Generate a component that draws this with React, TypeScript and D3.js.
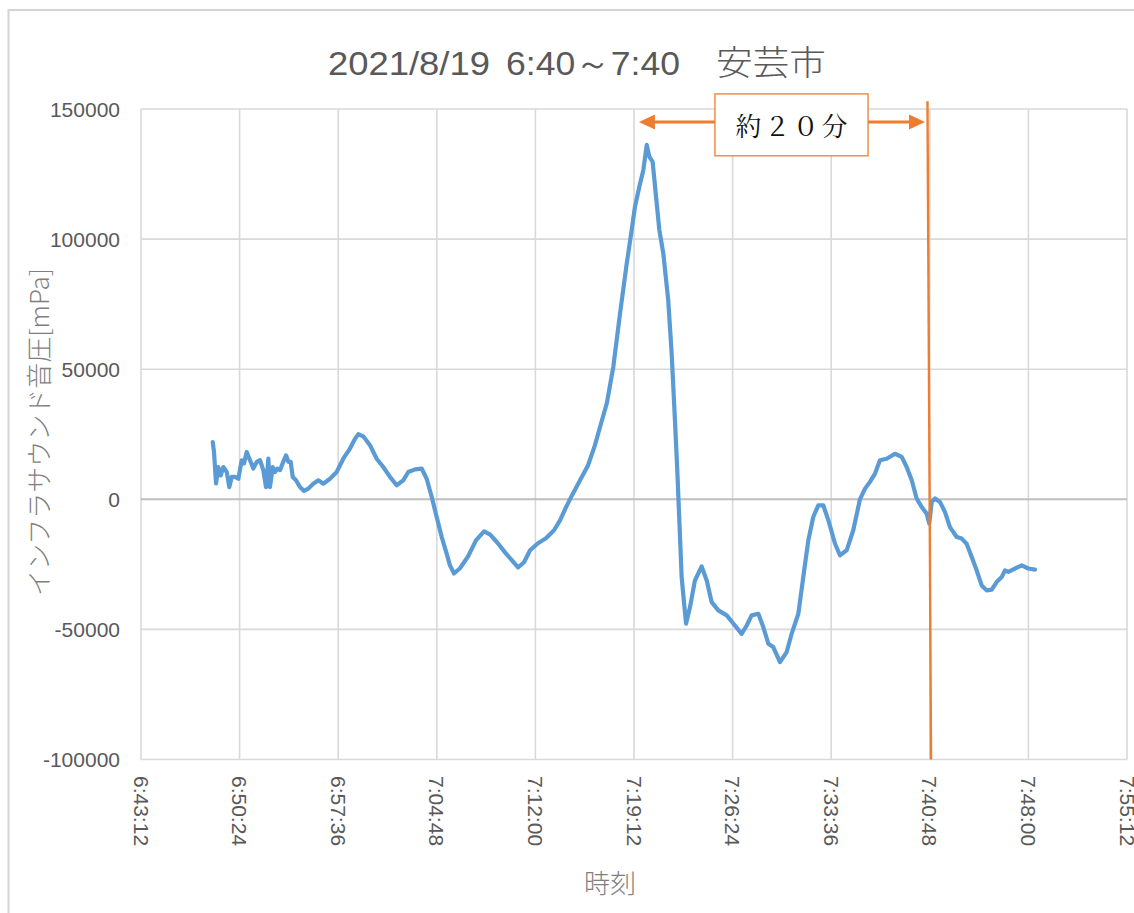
import React from 'react';
import * as d3 from 'd3';

// Chart texts
const titleDate = '2021/8/19';
const titleSpan = '6:40～7:40';
const titlePlace = '安芸市';
const yAxisTitle = 'インフラサウンド音圧[mPa]';
const xAxisTitle = '時刻';
const spanLabel = '約２０分';

// Elapsed minutes after 6:40:00 for each sample
const minutes = [
  8.44, 8.53, 8.68, 8.84, 9.02, 9.21, 9.46, 9.65, 9.82, 10.06, 10.31, 10.55, 10.72, 10.92,
  11.16, 11.4, 11.65, 11.89, 12.13, 12.33, 12.5, 12.62, 12.82, 12.98, 13.15, 13.35, 13.59,
  13.79, 13.96, 14.13, 14.28, 14.52, 14.81, 15.1, 15.42, 15.78, 16.15, 16.51, 17.0, 17.49,
  17.97, 18.46, 18.83, 19.07, 19.43, 19.92, 20.41, 20.89, 21.38, 21.87, 22.35, 22.72, 23.21,
  23.7, 24.06, 24.43, 24.79, 25.16, 25.52, 25.76, 26.06, 26.49, 27.08, 27.66, 28.25, 28.68,
  29.2, 29.78, 30.29, 30.73, 31.17, 31.61, 32.19, 32.77, 33.36, 33.8, 34.23, 34.67, 35.26,
  35.84, 36.35, 36.72, 37.21, 37.69, 38.18, 38.67, 39.03, 39.27, 39.59, 39.88, 40.13, 40.32,
  40.56, 40.81, 41.05, 41.34, 41.7, 41.95, 42.19, 42.36, 42.51, 42.68, 43.0, 43.29, 43.65,
  44.14, 44.51, 44.87, 45.36, 45.97, 46.57, 47.06, 47.43, 47.79, 48.28, 48.64, 49.01, 49.37,
  49.86, 50.35, 50.71, 51.2, 51.56, 51.93, 52.29, 52.66, 53.02, 53.39, 53.88, 54.24, 54.73,
  55.21, 55.7, 56.07, 56.43, 56.8, 57.16, 57.65, 58.26, 58.75, 59.11, 59.48, 59.84, 60.21,
  60.57, 60.76, 60.94, 61.18, 61.54, 61.91, 62.27, 62.76, 63.13, 63.49, 63.86, 64.22, 64.59,
  64.95, 65.32, 65.68, 66.05, 66.29, 66.53, 67.02, 67.51, 67.99, 68.48,
];

// Infrasound pressure [mPa] for each sample
const pressure = [
  22000, 18200, 6100, 12400, 9200, 12400, 10500, 4700, 8600, 8600, 7900, 15000, 13800, 18200,
  15000, 11800, 14400, 15000, 11200, 4700, 15600, 4700, 12400, 10500, 11800, 11200, 14400,
  16900, 14400, 14400, 8600, 7300, 4700, 3200, 4100, 6000, 7300, 6000, 7900, 10500,
  15600, 19500, 23300, 25000, 24200, 20800, 15600, 12400, 8600, 5400, 7300, 10500, 11500,
  11800, 7900, 900, -6800, -14500, -20900, -25400, -28500, -26500, -22000, -15800, -12300, -13500,
  -16500, -20400, -23500, -26200, -24200, -19600, -16900, -15000, -11900, -8100, -3100, 1500, 7300,
  13000, 20800, 27800, 36800, 50900, 71400, 90600, 103500, 112400, 120100, 126500, 136200, 131700,
  129700, 116300, 103500, 94500, 76500, 56000, 30400, 11200, -8000, -30000, -47800, -41400, -31200,
  -25800, -31200, -39500, -42700, -44600, -48500, -51700, -48500, -44600, -44000, -49100, -55500, -56800,
  -62600, -58700, -51700, -44000, -29900, -15800, -6800, -2300, -2300, -8000, -17100, -21500, -19600,
  -11900, 0, 4100, 6700, 9900, 15000, 15600, 17500, 16300, 12400, 7300, 300, -3000,
  -5500, -9300, -1000, 300, -1000, -4900, -10700, -14500, -15100, -17100, -22200, -27300, -33100,
  -35000, -34700, -31800, -29900, -27300, -27900, -26600, -25400, -26600, -27000,
];

// Axis ticks
const yTicks = [-100000, -50000, 0, 50000, 100000, 150000];
const xTicks = [3.2, 10.4, 17.6, 24.8, 32.0, 39.2, 46.4, 53.6, 60.8, 68.0, 75.2];

// Annotation: span from the peak to the marker, in minutes / mPa
const spanStart = 39.56;
const spanEnd = 60.45;
const spanLevel = 145000;
const markerTop = { t: 60.63, v: 153000 };
const markerBottom = { t: 60.89, v: -100000 };
const labelBox = { t0: 45.11, t1: 56.29, vTop: 155800, vBottom: 132000 };

const W = 1134;
const H = 913;
const BLUE = '#5b9bd5';
const ORANGE = '#ed7d31';
const GRID = '#d9d9d9';
const TEXT = '#595959';

function clock(m: number): string {
  const s = Math.round((6 * 60 + 40 + m) * 60);
  const h = Math.floor(s / 3600);
  const mm = Math.floor((s % 3600) / 60);
  const ss = s % 60;
  return `${h}:${String(mm).padStart(2, '0')}:${String(ss).padStart(2, '0')}`;
}

export default function App() {
  const x = d3.scaleLinear().domain([3.2, 75.2]).range([141, 1127]);
  const y = d3.scaleLinear().domain([-100000, 150000]).range([759.5, 109]);

  const pts: [number, number][] = minutes.map((m, i) => [m, pressure[i]]);
  const line = d3
    .line<[number, number]>()
    .x((d) => x(d[0]))
    .y((d) => y(d[1]));

  const ay = y(spanLevel);
  const ax0 = x(spanStart);
  const ax1 = x(spanEnd);
  const head = 16;
  const half = 7.5;

  const bx0 = x(labelBox.t0);
  const bx1 = x(labelBox.t1);
  const by0 = y(labelBox.vTop);
  const by1 = y(labelBox.vBottom);

  return (
    <svg
      width={W}
      height={H}
      style={{ position: 'absolute', left: 0, top: 0, background: '#fff' }}
      fontFamily="'Liberation Sans', Arial, sans-serif"
    >
      <rect x={0} y={0} width={W} height={H} fill="#fff" />
      {/* chart frame */}
      <path d={`M8.5,${H + 5} V10 H${W + 5}`} fill="none" stroke="#d4d4d4" strokeWidth={2} />

      {/* title */}
      <g fill={TEXT} fontSize={34}>
        <text x={328} y={75} textLength={162} lengthAdjust="spacingAndGlyphs">{titleDate}</text>
        <text x={506} y={75} textLength={174} lengthAdjust="spacingAndGlyphs">{titleSpan}</text>
        <text x={716} y={75} textLength={110} lengthAdjust="spacingAndGlyphs"
          fontFamily="'Noto Sans CJK JP', sans-serif" fontWeight={300}>{titlePlace}</text>
      </g>

      {/* gridlines */}
      <g stroke={GRID} strokeWidth={1.6}>
        {yTicks.filter((t) => t !== 0).map((t) => (
          <line key={'h' + t} x1={x(3.2)} x2={x(75.2)} y1={y(t)} y2={y(t)} />
        ))}
        {xTicks.map((t) => (
          <line key={'v' + t} x1={x(t)} x2={x(t)} y1={y(150000)} y2={y(-100000)} />
        ))}
      </g>
      <line x1={x(3.2)} x2={x(75.2)} y1={y(0)} y2={y(0)} stroke="#bfbfbf" strokeWidth={2} />

      {/* y tick labels */}
      <g fill={TEXT} fontSize={21} textAnchor="end">
        {yTicks.map((t) => (
          <text key={t} x={120} y={y(t)} dominantBaseline="central">{t}</text>
        ))}
      </g>

      {/* x tick labels */}
      <g fill={TEXT} fontSize={21}>
        {xTicks.map((t) => (
          <text
            key={t}
            transform={`translate(${x(t)},776) rotate(90)`}
            dominantBaseline="central"
          >
            {clock(t)}
          </text>
        ))}
      </g>

      {/* axis titles */}
      <text
        transform={`translate(37,432) rotate(-90)`}
        textAnchor="middle"
        dominantBaseline="central"
        fill="#7f7f7f"
        fontSize={26}
        fontFamily="'Noto Sans CJK JP', sans-serif"
        fontWeight={300}
      >
        {yAxisTitle}
      </text>
      <text
        x={610}
        y={893}
        textAnchor="middle"
        fill="#7f7f7f"
        fontSize={26}
        fontFamily="'Noto Sans CJK JP', sans-serif"
        fontWeight={300}
      >
        {xAxisTitle}
      </text>

      {/* pressure trace */}
      <path
        d={line(pts) ?? ''}
        fill="none"
        stroke={BLUE}
        strokeWidth={4.2}
        strokeLinejoin="round"
        strokeLinecap="round"
      />

      {/* marker line */}
      <line
        x1={x(markerTop.t)}
        y1={y(markerTop.v)}
        x2={x(markerBottom.t)}
        y2={y(markerBottom.v)}
        stroke={ORANGE}
        strokeWidth={2.4}
      />

      {/* span arrow */}
      <line x1={ax0 + head - 2} x2={ax1 - head + 2} y1={ay} y2={ay} stroke={ORANGE} strokeWidth={3} />
      <path d={`M${ax0},${ay} L${ax0 + head},${ay - half} L${ax0 + head},${ay + half} Z`} fill={ORANGE} />
      <path d={`M${ax1},${ay} L${ax1 - head},${ay - half} L${ax1 - head},${ay + half} Z`} fill={ORANGE} />

      {/* span label */}
      <rect x={bx0} y={by0} width={bx1 - bx0} height={by1 - by0} fill="#fff" stroke={ORANGE} strokeWidth={1.3} />
      <text
        x={(bx0 + bx1) / 2}
        y={(by0 + by1) / 2}
        textAnchor="middle"
        dominantBaseline="central"
        fontSize={26}
        fill="#111"
        fontFamily="'Noto Serif CJK JP', serif"
        textLength={112}
        lengthAdjust="spacing"
      >
        {spanLabel}
      </text>
    </svg>
  );
}
